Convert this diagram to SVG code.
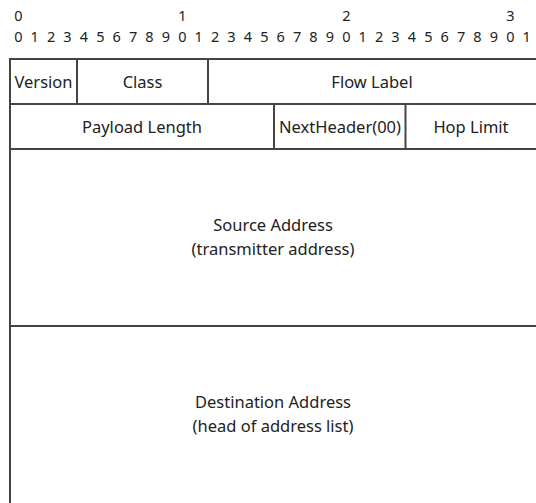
<svg xmlns="http://www.w3.org/2000/svg" width="536" height="503" viewBox="0 0 536 503">
<style>
text{font-family:"Noto Sans","DejaVu Sans",sans-serif;font-size:16.5px;fill:#222;text-anchor:middle}
.bit{font-size:14.5px}
line{stroke:#444;stroke-width:2}
</style>
<rect width="536" height="503" fill="#fff"/>
<g id="bit-ruler">
<text class="bit" x="18.3" y="21">0</text>
<text class="bit" x="182.3" y="21">1</text>
<text class="bit" x="346.3" y="21">2</text>
<text class="bit" x="510.3" y="21">3</text>
<text class="bit" y="42"><tspan x="18.3">0</tspan><tspan x="34.7">1</tspan><tspan x="51.1">2</tspan><tspan x="67.5">3</tspan><tspan x="83.9">4</tspan><tspan x="100.3">5</tspan><tspan x="116.7">6</tspan><tspan x="133.1">7</tspan><tspan x="149.5">8</tspan><tspan x="165.9">9</tspan><tspan x="182.3">0</tspan><tspan x="198.7">1</tspan><tspan x="215.1">2</tspan><tspan x="231.5">3</tspan><tspan x="247.9">4</tspan><tspan x="264.3">5</tspan><tspan x="280.7">6</tspan><tspan x="297.1">7</tspan><tspan x="313.5">8</tspan><tspan x="329.9">9</tspan><tspan x="346.3">0</tspan><tspan x="362.7">1</tspan><tspan x="379.1">2</tspan><tspan x="395.5">3</tspan><tspan x="411.9">4</tspan><tspan x="428.3">5</tspan><tspan x="444.7">6</tspan><tspan x="461.1">7</tspan><tspan x="477.5">8</tspan><tspan x="493.9">9</tspan><tspan x="510.3">0</tspan><tspan x="526.7">1</tspan></text>
</g>
<g id="grid">
<line x1="10" y1="59" x2="536" y2="59"/>
<line x1="10" y1="104" x2="536" y2="104"/>
<line x1="10" y1="149" x2="536" y2="149"/>
<line x1="10" y1="326" x2="536" y2="326"/>
<line x1="10" y1="58" x2="10" y2="503"/>
<line x1="77" y1="59" x2="77" y2="104"/>
<line x1="208" y1="59" x2="208" y2="104"/>
<line x1="274" y1="104" x2="274" y2="149"/>
<line x1="405.5" y1="104" x2="405.5" y2="149"/>
</g>
<g id="version"><text x="43.5" y="88">Version</text></g>
<g id="class"><text x="142.5" y="88">Class</text></g>
<g id="flow-label"><text x="372" y="88">Flow Label</text></g>
<g id="payload-length"><text x="142" y="133">Payload Length</text></g>
<g id="next-header"><text x="340" y="133">NextHeader(00)</text></g>
<g id="hop-limit"><text x="471" y="133">Hop Limit</text></g>
<g id="source-address"><text x="273" y="231">Source Address</text><text x="273" y="255">(transmitter address)</text></g>
<g id="destination-address"><text x="273" y="408">Destination Address</text><text x="273" y="432">(head of address list)</text></g>
</svg>
